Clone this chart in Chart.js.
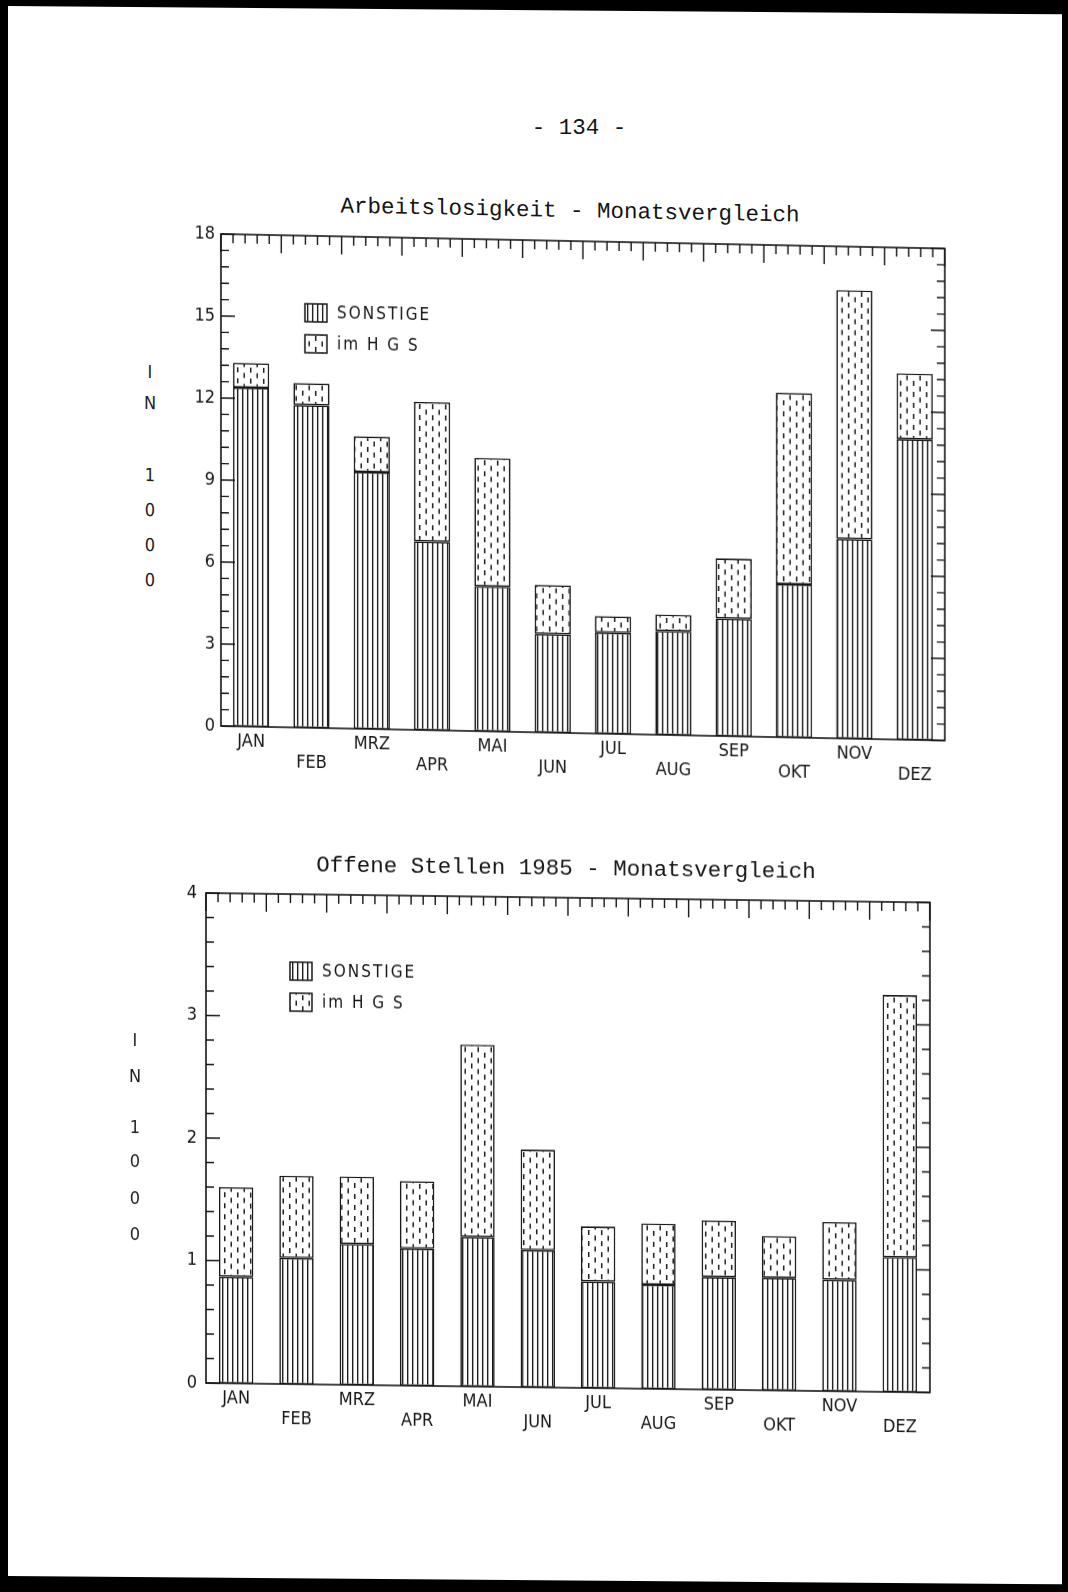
<!DOCTYPE html>
<html>
<head>
<meta charset="utf-8">
<script src="https://cdn.jsdelivr.net/npm/chart.js@4.4.0/dist/chart.umd.min.js"></script>
<style>
  html, body { margin: 0; padding: 0; background: #000; }
  body { width: 1068px; height: 1592px; position: relative; overflow: hidden; }
  #page { position: absolute; left: 8px; top: 6px; width: 1054px; height: 1570px; background: #fff;
          transform: skewY(0.45deg); transform-origin: 0 0; }
  .sheet { position: absolute; left: 0; top: 0; width: 1068px; height: 1592px; }
  .sheet canvas { position: absolute; left: 0; }
  .mono { position: absolute; font-family: 'Liberation Mono', 'Courier New', monospace; font-size: 22.5px;
          color: #151515; white-space: nowrap; transform: translate(-50%, -50%); }
  .unit { position: absolute; font-family: 'Liberation Sans Narrow', 'DejaVu Sans Condensed', sans-serif;
          font-size: 18px; color: #222; transform: translate(-50%, -50%); }
  #top { transform: skewY(1.15deg); transform-origin: 221px 726px; }
  #bottom { transform: skewY(0.75deg); transform-origin: 206px 1383px; }
</style>
</head>
<body>
<div id="page"></div>
<div class="mono" style="left:579px; top:128px;">- 134 -</div>

<div class="sheet" id="top">
  <div class="mono" style="left:570px; top:204px;">Arbeitslosigkeit - Monatsvergleich</div>
  <div class="unit" style="left:150px; top:373px;">I</div>
  <div class="unit" style="left:150px; top:404px;">N</div>
  <div class="unit" style="left:150px; top:476px;">1</div>
  <div class="unit" style="left:150px; top:511px;">0</div>
  <div class="unit" style="left:150px; top:546px;">0</div>
  <div class="unit" style="left:150px; top:581px;">0</div>
  <canvas id="chartTop" width="1068" height="620" style="top:180px;"></canvas>
</div>

<div class="sheet" id="bottom">
  <div class="mono" style="left:566px; top:864px;">Offene Stellen 1985 - Monatsvergleich</div>
  <div class="unit" style="left:135px; top:1040px;">I</div>
  <div class="unit" style="left:135px; top:1076px;">N</div>
  <div class="unit" style="left:135px; top:1127px;">1</div>
  <div class="unit" style="left:135px; top:1161px;">0</div>
  <div class="unit" style="left:135px; top:1198px;">0</div>
  <div class="unit" style="left:135px; top:1234px;">0</div>
  <canvas id="chartBottom" width="1068" height="620" style="top:840px;"></canvas>
</div>

<script>
const months = ['JAN', 'FEB', 'MRZ', 'APR', 'MAI', 'JUN', 'JUL', 'AUG', 'SEP', 'OKT', 'NOV', 'DEZ'];
const seriesNames = ['SONSTIGE', 'im H G S'];

// Arbeitslosigkeit (in 1000)
const arbeitSonstige = [12.4, 11.8, 9.4, 6.9, 5.3, 3.6, 3.7, 3.8, 4.3, 5.6, 7.3, 11.0];
const arbeitHGS = [0.9, 0.8, 1.3, 5.1, 4.7, 1.8, 0.6, 0.6, 2.2, 7.0, 9.1, 2.4];
const arbeitTicks = [0, 3, 6, 9, 12, 15, 18];

// Offene Stellen 1985 (in 1000)
const stellenSonstige = [0.87, 1.03, 1.15, 1.12, 1.22, 1.12, 0.87, 0.85, 0.92, 0.92, 0.91, 1.10];
const stellenHGS = [0.73, 0.67, 0.55, 0.55, 1.57, 0.82, 0.45, 0.50, 0.46, 0.34, 0.47, 2.14];
const stellenTicks = [0, 1, 2, 3, 4];

const ink = '#161616';
const plotFont = "'Liberation Sans Narrow', 'DejaVu Sans Condensed', 'Arial Narrow', sans-serif";

function makePattern(kind) {
  const c = document.createElement('canvas');
  // size first: resizing a canvas resets its context state
  if (kind === 'lines') { c.width = 5; c.height = 4; } else { c.width = 13; c.height = 11; }
  const g = c.getContext('2d');
  g.fillStyle = '#fff';
  g.fillRect(0, 0, c.width, c.height);
  if (kind === 'lines') {
    g.fillStyle = '#1c1c1c';
    g.fillRect(2, 0, 1.4, 4);
  } else {
    g.fillStyle = '#1e1e1e';
    g.fillRect(3, 0, 1.5, 5);
    g.fillRect(9.5, 5.5, 1.5, 5);
  }
  return g.createPattern(c, 'repeat');
}

// frame, inward tick marks and the legend inside the plot area
const frameTicks = {
  id: 'frameTicks',
  afterDraw(chart, args, opts) {
    const { ctx, chartArea: a } = chart;
    const x = chart.scales.x, y = chart.scales.y;
    ctx.save();
    ctx.strokeStyle = ink;
    ctx.lineWidth = 1.6;
    ctx.strokeRect(a.left, a.top, a.right - a.left, a.bottom - a.top);
    ctx.lineWidth = 1.4;
    ctx.beginPath();
    const n = Math.round((y.max - y.min) / opts.minor);
    for (let k = 0; k <= n; k++) {
      const py = y.getPixelForValue(y.min + k * opts.minor);
      const len = k % 5 === 0 ? 14 : 8;
      ctx.moveTo(a.left, py); ctx.lineTo(a.left + len, py);
      ctx.moveTo(a.right, py); ctx.lineTo(a.right - len, py);
    }
    const cats = chart.data.labels.length;
    for (let k = 0; k <= cats * 5; k++) {
      const px = x.getPixelForValue(-0.5 + k / 5);
      const len = k % 5 === 0 ? 18 : 9;
      ctx.moveTo(px, a.top); ctx.lineTo(px, a.top + len);
    }
    ctx.stroke();

    // legend
    ctx.font = '17px ' + plotFont;
    ctx.textBaseline = 'middle';
    ctx.textAlign = 'left';
    if ('letterSpacing' in ctx) ctx.letterSpacing = '2px';
    chart.data.datasets.forEach((ds, i) => {
      const bx = a.left + 84, cy = a.top + 77 + i * 31;
      ctx.fillStyle = ds.backgroundColor;
      ctx.fillRect(bx, cy - 9, 22, 18);
      ctx.lineWidth = 1.5;
      ctx.strokeRect(bx, cy - 9, 22, 18);
      ctx.fillStyle = ink;
      ctx.fillText(ds.label, bx + 32, cy + 1);
    });
    ctx.restore();
  }
};

function makeChart(id, sonstige, hgs, ticks, minor, pad, barPct, yPad) {
  const labels = months.map((m, i) => (i % 2 ? ['', m] : m));
  return new Chart(document.getElementById(id), {
    type: 'bar',
    data: {
      labels: labels,
      datasets: [
        { label: seriesNames[0], data: sonstige, backgroundColor: makePattern('lines') },
        { label: seriesNames[1], data: hgs, backgroundColor: makePattern('dashes') }
      ].map(d => Object.assign(d, {
        borderColor: ink, borderWidth: 1.6, borderSkipped: false,
        barPercentage: barPct, categoryPercentage: 1
      }))
    },
    options: {
      responsive: false,
      animation: false,
      devicePixelRatio: 1,
      layout: { padding: pad },
      plugins: {
        legend: { display: false },
        tooltip: { enabled: false },
        frameTicks: { minor: minor }
      },
      scales: {
        x: {
          stacked: true,
          grid: { display: false, drawTicks: false },
          border: { display: false },
          ticks: { color: ink, padding: 5, maxRotation: 0, autoSkip: false,
                   font: { family: plotFont, size: 18, lineHeight: 1.12 } },
          afterFit: s => { s.height = 50; }
        },
        y: {
          stacked: true,
          min: ticks[0],
          max: ticks[ticks.length - 1],
          grid: { display: false, drawTicks: false },
          border: { display: false },
          afterBuildTicks: s => { s.ticks = ticks.map(v => ({ value: v })); },
          ticks: { color: ink, padding: yPad, font: { family: plotFont, size: 18 } },
          afterFit: s => { s.width = 50; }
        }
      }
    },
    plugins: [frameTicks]
  });
}

makeChart('chartTop', arbeitSonstige, arbeitHGS, arbeitTicks, 0.6,
  { left: 171, right: 123, top: 54, bottom: 24 }, 0.6, 6);
makeChart('chartBottom', stellenSonstige, stellenHGS, stellenTicks, 0.2,
  { left: 156, right: 138, top: 53, bottom: 27 }, 0.57, 9);
</script>
</body>
</html>
